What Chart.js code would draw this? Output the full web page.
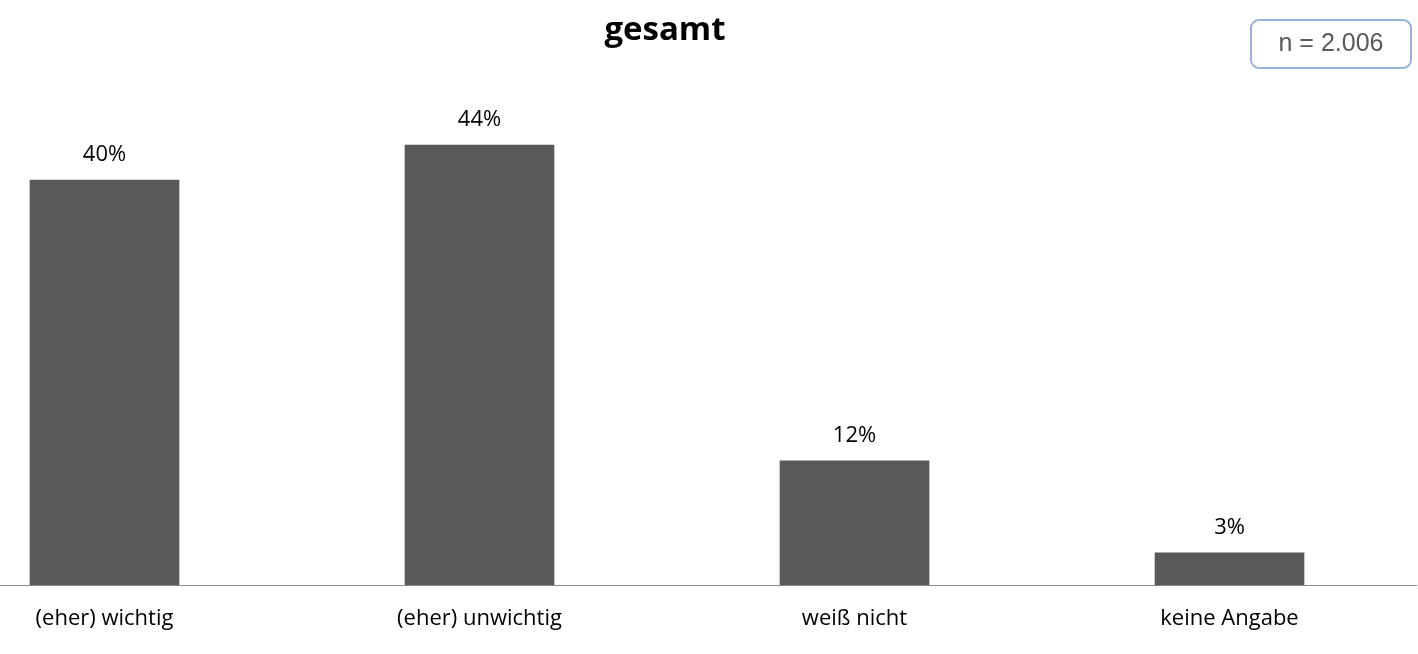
<!DOCTYPE html>
<html>
<head>
<meta charset="utf-8">
<script src="https://cdn.jsdelivr.net/npm/chart.js@4"></script>
<style>
  html, body { margin: 0; padding: 0; background: #fff; }
  #wrap { width: 1418px; height: 654px; position: relative; }
</style>
</head>
<body>
<div id="wrap"><canvas id="chart"></canvas></div>
<script>
const categories = ["(eher) wichtig", "(eher) unwichtig", "weiß nicht", "keine Angabe"];
const shares = [40.4, 43.9, 12.4, 3.2];
const chartTitle = "gesamt";
const sampleNote = "n = 2.006";

const ctx = document.getElementById("chart").getContext("2d");

// value labels above the bars, title and n-box
const decorations = {
  id: "decorations",
  afterDatasetsDraw(chart) {
    const c = chart.ctx;
    const meta = chart.getDatasetMeta(0);
    c.save();
    c.fillStyle = "#000";
    c.font = "22px 'Open Sans', 'Noto Sans', sans-serif";
    c.textAlign = "center";
    c.textBaseline = "middle";
    meta.data.forEach((bar, i) => {
      c.fillText(Math.round(shares[i]) + "%", bar.x, bar.y - 25);
    });

    c.font = "bold 33px 'Open Sans', 'Noto Sans', sans-serif";
    c.fillText(chartTitle, 665, 31);

    c.strokeStyle = "#95b1dc";
    c.lineWidth = 2;
    c.beginPath();
    c.roundRect(1251, 20, 160, 48, 8);
    c.stroke();
    c.fillStyle = "#595959";
    c.font = "25px 'Liberation Sans', Arial, sans-serif";
    c.fillText(sampleNote, 1331, 44);
    c.restore();
  }
};

new Chart(ctx, {
  type: "bar",
  data: {
    datasets: [{
      data: shares.map((v, i) => ({ x: i, y: v })),
      backgroundColor: "#595959",
      borderWidth: 0,
      barThickness: 149
    }]
  },
  options: {
    responsive: true,
    maintainAspectRatio: false,
    animation: false,
    layout: { padding: { top: 95, right: 2, left: 0, bottom: 0 } },
    plugins: {
      legend: { display: false },
      tooltip: { enabled: false },
      title: { display: false }
    },
    scales: {
      x: {
        type: "linear",
        offset: false,
        min: -0.2787,
        max: 3.4973,
        grid: { display: false, drawTicks: false, offset: false },
        border: { display: true, color: "#898989", width: 1 },
        afterBuildTicks: scale => {
          scale.ticks = categories.map((_, i) => ({ value: i }));
        },
        afterFit: scale => { scale.height = 69; },
        ticks: {
          autoSkip: false,
          maxRotation: 0,
          padding: 21,
          color: "#000",
          font: { family: "'Open Sans', 'Noto Sans', sans-serif", size: 22 },
          callback: v => categories[v]
        }
      },
      y: {
        display: false,
        min: 0,
        max: 48.9
      }
    }
  },
  plugins: [decorations]
});
</script>
</body>
</html>
